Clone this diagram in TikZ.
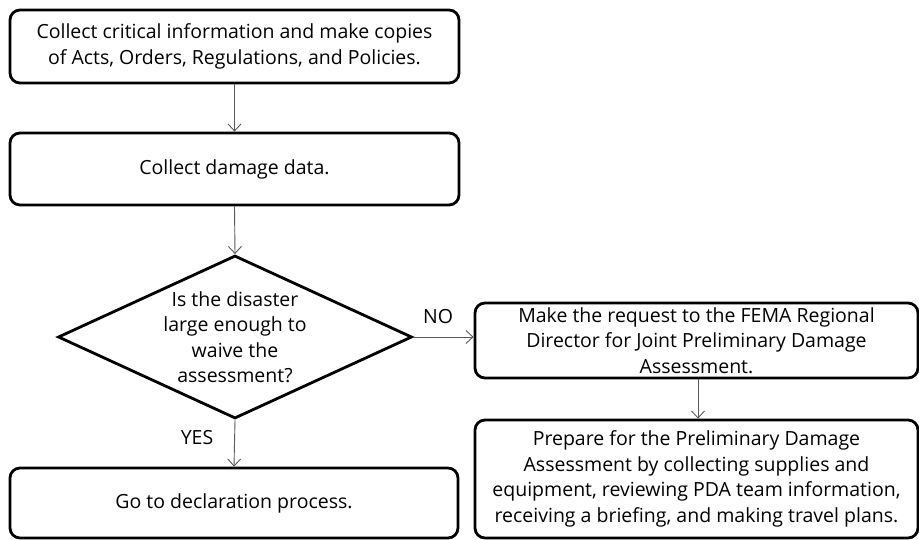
\documentclass[tikz,border=0pt]{standalone}
\usepackage{fontspec}
\setmainfont{Open Sans}
\usetikzlibrary{shapes.geometric,arrows.meta}
\begin{document}
\begin{tikzpicture}[x=1pt,y=-1pt,
  box/.style={draw=black,line width=2.8pt,rounded corners=10pt,align=center,inner sep=0pt,
    font=\fontsize{19.5}{25.5}\selectfont},
  flow/.style={draw=black!65,line width=0.9pt,-{Straight Barb[length=7pt,width=13pt]}},
  lbl/.style={font=\fontsize{19.5}{25.5}\selectfont,inner sep=0pt}]
\useasboundingbox (0,0) rectangle (919,540);
\node[box,minimum width=449pt,minimum height=73pt] (b1) at (234.5,46.5)
  {Collect critical information and make copies\\of Acts, Orders, Regulations, and Policies.};
\node[box,minimum width=449pt,minimum height=72pt] (b2) at (234.5,169)
  {Collect damage data.};
\node[diamond,draw=black,line width=2.8pt,minimum width=354pt,minimum height=163pt,
  inner sep=0pt,aspect=2.17,
  label={[lbl,align=center]center:Is the disaster\\large enough to\\waive the\\assessment?}] (d) at (235,337) {};
\node[box,minimum width=448pt,minimum height=70pt] (b4) at (234,503)
  {Go to declaration process.};
\node[box,minimum width=443pt,minimum height=75pt] (b3) at (696.5,340.5)
  {Make the request to the FEMA Regional\\Director for Joint Preliminary Damage\\Assessment.};
\node[box,minimum width=443pt,minimum height=118pt] (b5) at (696.5,479)
  {Prepare for the Preliminary Damage\\Assessment by collecting supplies and\\equipment, reviewing PDA team information,\\receiving a briefing, and making travel plans.};
\draw[flow] (b1.south) -- (b2.north);
\draw[flow] (b2.south) -- (d.north);
\draw[flow] (d.east) -- (b3.west |- d.east);
\draw[flow] (d.south) -- (b4.north);
\draw[flow] (b3.south -| 698,0) -- (b5.north -| 698,0);
\node[lbl] (no) at (438,317) {NO};
\node[lbl] (yes) at (197,438) {YES};
\end{tikzpicture}
\end{document}
